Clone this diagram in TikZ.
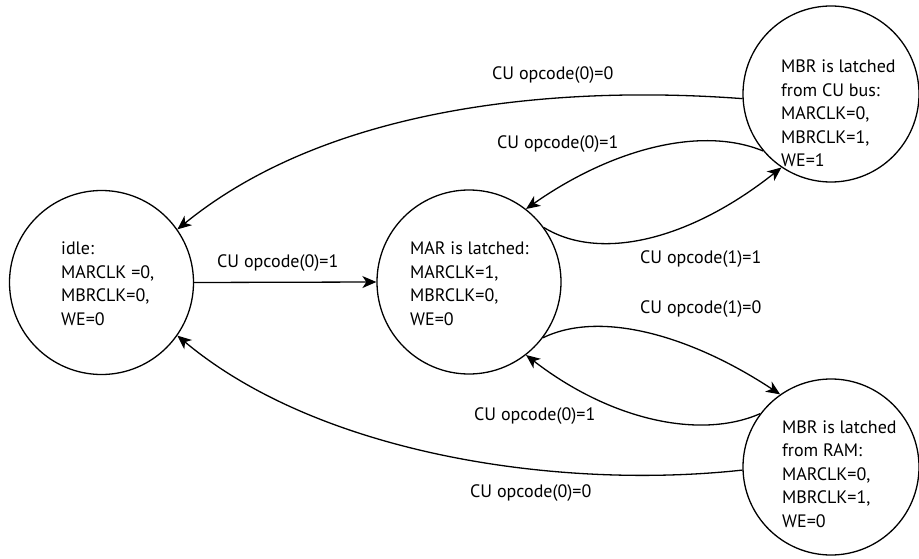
\documentclass[tikz,border=0pt]{standalone}
\usepackage{fontspec}
\setmainfont{PT Sans}
\usetikzlibrary{arrows.meta}

\begin{document}
\begin{tikzpicture}[
    x=1pt, y=-1pt,
    state/.style={circle, draw=black, line width=1.3pt, inner sep=0pt},
    bigstate/.style={state, minimum size=184pt},
    sidestate/.style={state, minimum size=176pt},
    statetext/.style={anchor=base west, align=left, inner sep=0pt, font=\fontsize{18}{23.5}\selectfont},
    edgelabel/.style={anchor=base west, inner sep=0pt, font=\fontsize{18}{20}\selectfont},
    arrow/.style={-{Stealth[length=14pt, width=12pt, inset=4pt]}, line width=1.3pt}
]
\useasboundingbox (0,0) rectangle (919,559);

% states
\node[bigstate] (idle) at (101.5,282.5) {};
\node[bigstate] (mar) at (469,282) {};
\node[sidestate] (bus) at (831,94) {};
\node[sidestate] (ram) at (831,467) {};

% state texts, placed by the baseline of their last line
\node[statetext] (idletext) at (61,325) {idle:\\MARCLK =0,\\MBRCLK=0,\\WE=0};
\node[statetext] (martext) at (410,325) {MAR is latched:\\MARCLK=1,\\MBRCLK=0,\\WE=0};
\node[statetext] (bustext) at (781,167) {MBR is latched\\from CU bus:\\MARCLK=0,\\MBRCLK=1,\\WE=1};
\node[statetext] (ramtext) at (782,527) {MBR is latched\\from RAM:\\MARCLK=0,\\MBRCLK=1,\\WE=0};

% transitions
\draw[arrow] (idle.east) -- (mar.west);
\draw[arrow] (bus.183) .. controls (560,85) and (330,105) .. (idle.35);
\draw[arrow] (bus.220) .. controls (700,125) and (610,150) .. (mar.52);
\draw[arrow] (mar.36) .. controls (600,262) and (690,240) .. (bus.236);
\draw[arrow] (mar.-37) .. controls (600,310) and (690,335) .. (ram.125);
\draw[arrow] (ram.143) .. controls (700,440) and (610,420) .. (mar.-52);
\draw[arrow] (ram.182) .. controls (560,490) and (320,455) .. (idle.-35);

% labels
\node[edgelabel] (l1) at (217,267) {CU opcode(0)=1};
\node[edgelabel] (l2) at (492,80) {CU opcode(0)=0};
\node[edgelabel] (l3) at (497,149) {CU opcode(0)=1};
\node[edgelabel] (l4) at (640,263) {CU opcode(1)=1};
\node[edgelabel] (l5) at (640,313) {CU opcode(1)=0};
\node[edgelabel] (l6) at (474,420) {CU opcode(0)=1};
\node[edgelabel] (l7) at (470,497) {CU opcode(0)=0};
\end{tikzpicture}
\end{document}
